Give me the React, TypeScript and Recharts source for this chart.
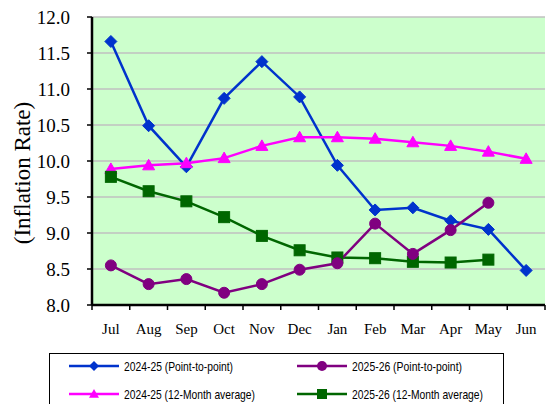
import React from 'react';
import { LineChart, Line, XAxis, YAxis, CartesianGrid } from 'recharts';

const months = ['Jul', 'Aug', 'Sep', 'Oct', 'Nov', 'Dec', 'Jan', 'Feb', 'Mar', 'Apr', 'May', 'Jun'];
const p2p2425 = [11.66, 10.49, 9.92, 10.87, 11.38, 10.89, 9.94, 9.32, 9.35, 9.17, 9.05, 8.48];
const p2p2526 = [8.55, 8.29, 8.36, 8.17, 8.29, 8.49, 8.58, 9.13, 8.71, 9.04, 9.42];
const avg2425 = [9.89, 9.94, 9.97, 10.04, 10.21, 10.33, 10.33, 10.31, 10.26, 10.21, 10.13, 10.03];
const avg2526 = [9.78, 9.58, 9.44, 9.22, 8.96, 8.76, 8.66, 8.65, 8.60, 8.59, 8.63];
const yTicks = [8.0, 8.5, 9.0, 9.5, 10.0, 10.5, 11.0, 11.5, 12.0];

const data = months.map((m, i) => ({
  month: m,
  p2p2425: p2p2425[i],
  p2p2526: p2p2526[i],
  avg2425: avg2425[i],
  avg2526: avg2526[i],
}));

const BLUE = '#0033CC';
const PURPLE = '#800080';
const MAGENTA = '#FF00FF';
const GREEN = '#006600';
const SERIF = "'Liberation Serif', 'Times New Roman', serif";

const diamond = (cx: number, cy: number, s = 6) =>
  `M${cx},${cy - s}L${cx + s},${cy}L${cx},${cy + s}L${cx - s},${cy}Z`;
const triangle = (cx: number, cy: number, s = 6) =>
  `M${cx},${cy - s}L${cx + s},${cy + s * 0.75}L${cx - s},${cy + s * 0.75}Z`;

const makeDot = (kind: string, color: string) => (props: any) => {
  const { cx, cy, index, value } = props;
  const key = `${kind}-${index}`;
  if (cx == null || cy == null || value == null) return <g key={key} />;
  if (kind === 'diamond') return <path key={key} d={diamond(cx, cy)} fill={color} stroke={color} />;
  if (kind === 'circle') return <circle key={key} cx={cx} cy={cy} r={5.5} fill={color} stroke={color} />;
  if (kind === 'triangle') return <path key={key} d={triangle(cx, cy)} fill={color} stroke={color} />;
  return <rect key={key} x={cx - 5.5} y={cy - 5.5} width={11} height={11} fill={color} stroke={color} />;
};

const XTick = (props: any) => {
  const { x, y, payload, index } = props;
  const half = payload && payload.offset ? payload.offset : 18.9;
  return (
    <g>
      <line x1={x - half} y1={y} x2={x - half} y2={y + 5} stroke="#000" strokeWidth={1.5} />
      {index === months.length - 1 && (
        <line x1={x + half} y1={y} x2={x + half} y2={y + 5} stroke="#000" strokeWidth={1.5} />
      )}
      <text x={x} y={y + 29} textAnchor="middle" fontFamily={SERIF} fontSize={15} fill="#000">
        {payload.value}
      </text>
    </g>
  );
};

const YLabel = (props: any) => {
  const vb = props.viewBox || { y: 17, height: 288 };
  const cy = vb.y + vb.height / 2 + 12;
  return (
    <text
      x={22}
      y={cy}
      transform={`rotate(-90, 22, ${cy})`}
      textAnchor="middle"
      dominantBaseline="central"
      fontFamily={SERIF}
      fontSize={23}
      fill="#000"
    >
      (Inflation Rate)
    </text>
  );
};

const legendItems = [
  { label: '2024-25 (Point-to-point)', color: BLUE, kind: 'diamond', x: 69, y: 366, w: 109 },
  { label: '2025-26 (Point-to-point)', color: PURPLE, kind: 'circle', x: 297, y: 366, w: 110 },
  { label: '2024-25 (12-Month average)', color: MAGENTA, kind: 'triangle', x: 69, y: 394, w: 131 },
  { label: '2025-26 (12-Month average)', color: GREEN, kind: 'square', x: 297, y: 394, w: 131 },
];

const LegendBox = () => (
  <svg width={551} height={404} style={{ position: 'absolute', left: 0, top: 0, pointerEvents: 'none' }}>
    <rect x={49.5} y={353.5} width={454} height={60} fill="#fff" stroke="#000" strokeWidth={1} />
    {legendItems.map((it) => {
      const cx = it.x + 25;
      let marker;
      if (it.kind === 'diamond') marker = <path d={diamond(cx, it.y, 5)} fill={it.color} />;
      else if (it.kind === 'circle') marker = <circle cx={cx} cy={it.y} r={5} fill={it.color} />;
      else if (it.kind === 'triangle') marker = <path d={triangle(cx, it.y, 5)} fill={it.color} />;
      else marker = <rect x={cx - 5} y={it.y - 5} width={10} height={10} fill={it.color} />;
      return (
        <g key={it.label}>
          <line x1={it.x} y1={it.y} x2={it.x + 50} y2={it.y} stroke={it.color} strokeWidth={2.5} />
          {marker}
          <text
            x={it.x + 55}
            y={it.y + 4.5}
            fontFamily="'Liberation Sans', Arial, sans-serif"
            fontSize={13}
            textLength={it.w}
            lengthAdjust="spacingAndGlyphs"
            fill="#000"
          >
            {it.label}
          </text>
        </g>
      );
    })}
  </svg>
);

export default function App() {
  return (
    <div style={{ position: 'absolute', left: 0, top: 0, width: 551, height: 404, background: '#fff' }}>
      <LineChart width={551} height={404} data={data} margin={{ top: 17, right: 6, bottom: 69, left: 0 }}>
        <CartesianGrid vertical={false} stroke="#C0C0C0" strokeWidth={1.5} fill="#CCFFCC" fillOpacity={1} />
        <XAxis
          dataKey="month"
          scale="band"
          height={30}
          axisLine={{ stroke: '#000', strokeWidth: 2.5 }}
          tickLine={false}
          tickSize={0}
          tickMargin={0}
          tick={<XTick />}
          interval={0}
        />
        <XAxis xAxisId="top" dataKey="month" scale="band" orientation="top" height={0} tick={false} tickLine={false} axisLine={{ stroke: '#000', strokeWidth: 2.5 }} />
        <YAxis
          domain={[8, 12]}
          ticks={yTicks}
          width={92}
          interval={0}
          tickFormatter={(v: number) => v.toFixed(1)}
          axisLine={{ stroke: '#000', strokeWidth: 2.5 }}
          tickLine={{ stroke: '#000', strokeWidth: 1.5 }}
          tickSize={5}
          tickMargin={17}
          tick={{ fill: '#000', fontSize: 19, fontFamily: SERIF }}
          label={<YLabel />}
        />
        <YAxis yAxisId="right" orientation="right" width={0} domain={[8, 12]} tick={false} tickLine={false} axisLine={{ stroke: '#000', strokeWidth: 2.5 }} />
        <Line type="linear" dataKey="p2p2425" stroke={BLUE} strokeWidth={2.5} dot={makeDot('diamond', BLUE)} isAnimationActive={false} />
        <Line type="linear" dataKey="avg2425" stroke={MAGENTA} strokeWidth={2.5} dot={makeDot('triangle', MAGENTA)} isAnimationActive={false} />
        <Line type="linear" dataKey="avg2526" stroke={GREEN} strokeWidth={2.5} dot={makeDot('square', GREEN)} isAnimationActive={false} />
        <Line type="linear" dataKey="p2p2526" stroke={PURPLE} strokeWidth={2.5} dot={makeDot('circle', PURPLE)} isAnimationActive={false} />
      </LineChart>
      <LegendBox />
    </div>
  );
}
